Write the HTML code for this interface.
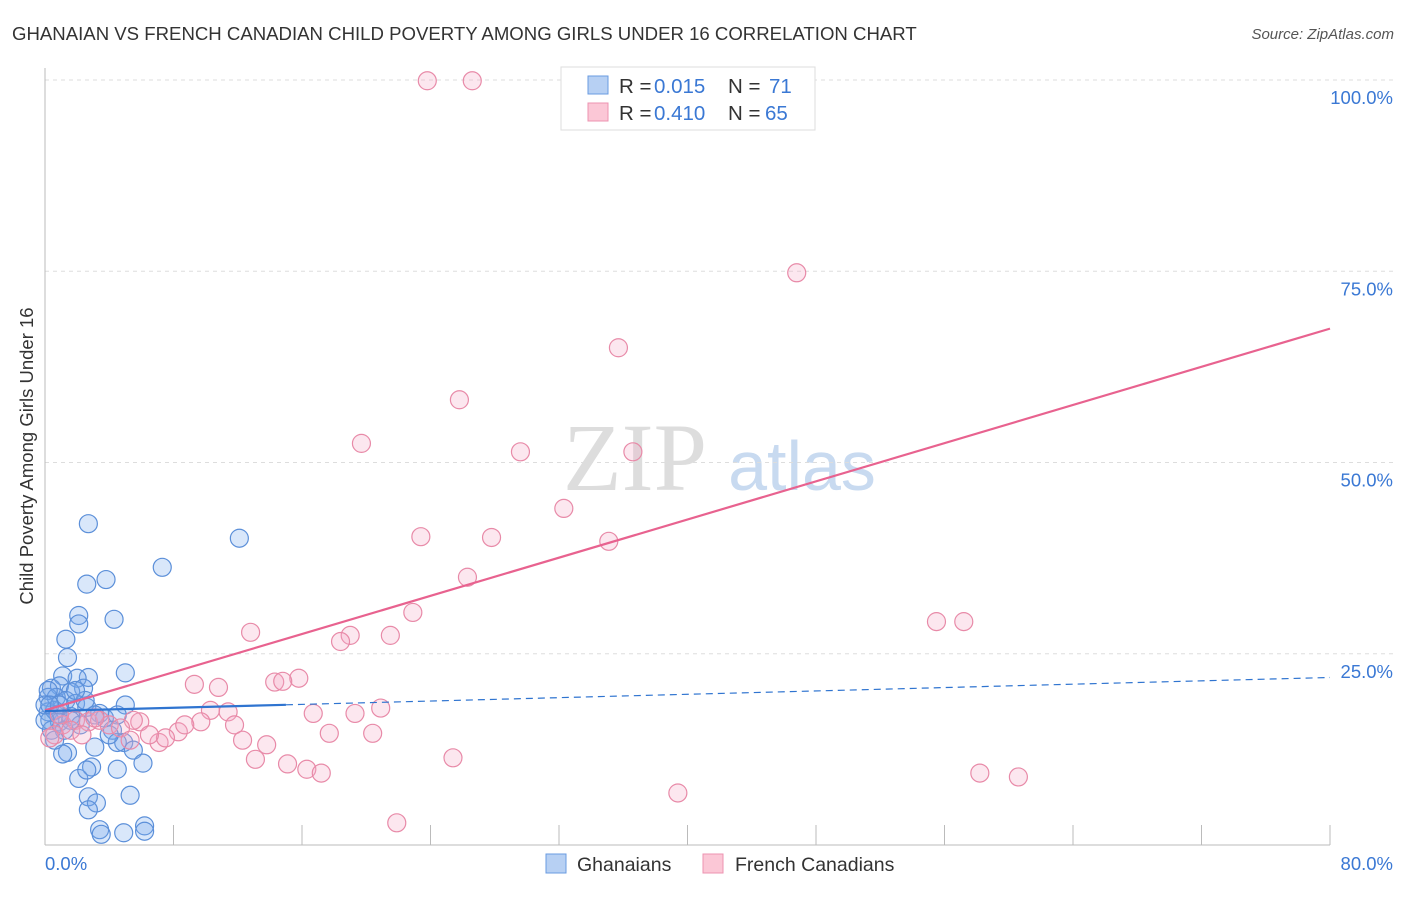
<!DOCTYPE html>
<html><head><meta charset="utf-8"><style>
body{margin:0;background:#fff;font-family:"Liberation Sans",sans-serif;}
</style></head><body>
<svg width="1406" height="892" xmlns="http://www.w3.org/2000/svg">
<text x="12" y="40" font-size="18.6" fill="#333">GHANAIAN VS FRENCH CANADIAN CHILD POVERTY AMONG GIRLS UNDER 16 CORRELATION CHART</text>
<text x="1394" y="39" font-size="15" fill="#555" font-style="italic" text-anchor="end">Source: ZipAtlas.com</text>
<g>
<text x="635" y="490" font-family="Liberation Serif,serif" font-size="96" fill="#ddd" text-anchor="middle">ZIP</text>
<text x="802" y="490" font-size="70" fill="#c8daf0" text-anchor="middle">atlas</text>
</g>
<g id="grid"></g>
<line x1="45" y1="68" x2="45" y2="845" stroke="#bbb"/>
<line x1="45" y1="845" x2="1330" y2="845" stroke="#bbb"/>
<g id="xt"></g>
<text x="33" y="456" font-size="18.5" fill="#333" text-anchor="middle" transform="rotate(-90 33 456)">Child Poverty Among Girls Under 16</text>
<text x="45" y="870" font-size="18.5" fill="#3a78d4">0.0%</text>
<text x="1393" y="870" font-size="18.5" fill="#3a78d4" text-anchor="end">80.0%</text>
<g id="pts"></g>
<g id="lines"></g>
<g>
<rect x="561" y="67" width="254" height="63" fill="#fff" stroke="#ddd"/>
<rect x="588" y="76" width="20" height="18" fill="#b7d0f3" stroke="#6a9be0"/>
<rect x="588" y="103" width="20" height="18" fill="#fbc7d6" stroke="#ec93b0"/>
<text x="619" y="93" font-size="20.5" fill="#333">R = </text>
<text x="654" y="93" font-size="20.5" fill="#3a78d4">0.015</text>
<text x="728" y="93" font-size="20.5" fill="#333">N = </text>
<text x="769" y="93" font-size="20.5" fill="#3a78d4">71</text>
<text x="619" y="120" font-size="20.5" fill="#333">R = </text>
<text x="654" y="120" font-size="20.5" fill="#3a78d4">0.410</text>
<text x="728" y="120" font-size="20.5" fill="#333">N = </text>
<text x="765" y="120" font-size="20.5" fill="#3a78d4">65</text>
</g>
<g>
<rect x="546" y="854" width="20" height="19" fill="#b7d0f3" stroke="#6a9be0"/>
<text x="577" y="871" font-size="19.5" fill="#333">Ghanaians</text>
<rect x="703" y="854" width="20" height="19" fill="#fbc7d6" stroke="#ec93b0"/>
<text x="735" y="871" font-size="19.5" fill="#333">French Canadians</text>
</g>
</svg>
<script>
const yTicks=[25,50,75,100];
const yTickLabels=["25.0%","50.0%","75.0%","100.0%"];
const xTicks=[8,16,24,32,40,48,56,64,72,80];
const blueX=[2.7,12.1,7.3,2.6,3.8,2.1,2.1,4.3,1.3,1.4,5.0,2.7,1.1,2.0,0.4,0.9,2.4,1.6,5.0,0.2,0.7,1.3,1.9,2.6,3.4,0.2,0.8,1.6,3.7,4.5,0.3,0.9,2.2,0.4,4.2,4.9,3.1,5.5,1.4,1.1,4.5,2.1,2.9,2.6,4.5,6.1,5.3,2.7,3.2,2.7,3.4,4.9,6.2,6.2,3.5,0.6,0.0,0.2,0.0,1.6,2.5,0.9,3.1,1.2,0.6,4.0,0.3,1.9];
const blueY=[42.0,40.1,36.3,34.1,34.7,30.0,28.9,29.5,26.9,24.5,22.5,21.9,22.1,21.8,20.5,20.8,20.5,20.0,18.3,19.3,19.3,18.9,18.5,18.0,17.2,17.4,17.1,16.8,16.6,17.0,16.3,16.1,15.7,15.0,15.0,13.4,12.8,12.4,12.1,11.9,13.4,8.7,10.2,9.8,9.9,10.7,6.5,6.3,5.5,4.6,2.0,1.6,2.5,1.8,1.4,17.6,16.3,20.2,18.3,16.3,18.9,18.3,17.0,15.0,13.7,14.4,18.3,20.2];
const pinkX=[23.8,26.6,46.8,35.7,25.8,19.7,29.6,36.6,32.3,23.4,27.8,35.1,26.3,22.9,12.8,19.0,21.5,18.4,15.8,9.3,10.8,14.3,14.8,55.5,57.2,10.3,11.4,16.7,19.3,20.9,8.3,9.7,11.8,7.1,5.9,5.5,7.5,12.3,13.8,17.7,20.4,13.1,15.1,16.3,17.2,25.4,58.2,60.6,39.4,21.9,1.1,1.9,0.6,2.7,3.4,4.0,4.7,1.6,0.3,5.3,6.5,3.1,8.7,2.3,0.9];
const pinkY=[99.9,99.9,74.8,65.0,58.2,52.5,51.4,51.4,44.0,40.3,40.2,39.7,35.0,30.4,27.8,27.4,27.4,26.6,21.8,21.0,20.6,21.3,21.4,29.2,29.2,17.6,17.4,17.2,17.2,17.9,14.8,16.1,15.7,13.4,16.1,16.3,14.0,13.7,13.1,14.6,14.6,11.2,10.6,9.9,9.4,11.4,9.4,8.9,6.8,2.9,15.7,16.3,14.4,16.1,16.3,15.7,15.3,15.0,14.0,13.7,14.4,16.6,15.7,14.4,17.0];
const pinkFit=[17.6,67.5];
const blueFit=[17.5,21.9];
const blueSolidEnd=15;
const NS="http://www.w3.org/2000/svg";
const X=v=>45+v*(1330-45)/80;
const Y=v=>845-v*(845-80)/100;
function mk(t,a){const e=document.createElementNS(NS,t);for(const k in a)e.setAttribute(k,a[k]);return e;}
const grid=document.getElementById('grid');
yTicks.forEach((t,i)=>{
 const l=mk('line',{x1:45,x2:1394,y1:Y(t),y2:Y(t),stroke:'#ddd','stroke-dasharray':'4,4'});
 
 
 grid.appendChild(l);
 const tx=mk('text',{x:1393,y:Y(t)+24,'font-size':18.5,fill:'#3a78d4','text-anchor':'end'});
 tx.textContent=yTickLabels[i];
 
 
 grid.appendChild(tx);
});
const xt=document.getElementById('xt');
xTicks.forEach(t=>{
 const l=mk('line',{x1:X(t),x2:X(t),y1:825,y2:845,stroke:'#bbb'});
 
 
 xt.appendChild(l);
});
const pts=document.getElementById('pts');
blueX.forEach((x,i)=>{
 const c=mk('circle',{cx:X(x),cy:Y(blueY[i]),r:9,fill:'rgba(120,168,236,0.28)',stroke:'#5b8fd9','stroke-width':1.2});
 
 
 pts.appendChild(c);
});
pinkX.forEach((x,i)=>{
 const c=mk('circle',{cx:X(x),cy:Y(pinkY[i]),r:9,fill:'rgba(246,170,196,0.28)',stroke:'#e88aa8','stroke-width':1.2});
 
 
 pts.appendChild(c);
});
const lines=document.getElementById('lines');
const bAt=x=>blueFit[0]+(blueFit[1]-blueFit[0])*x/80;
let l1=mk('line',{x1:X(0),y1:Y(pinkFit[0]),x2:X(80),y2:Y(pinkFit[1]),stroke:'#e8628f','stroke-width':2.2});


lines.appendChild(l1);
let l2=mk('line',{x1:X(0),y1:Y(bAt(0)),x2:X(blueSolidEnd),y2:Y(bAt(blueSolidEnd)),stroke:'#2f74d0','stroke-width':2.2});


lines.appendChild(l2);
let l3=mk('line',{x1:X(blueSolidEnd),y1:Y(bAt(blueSolidEnd)),x2:X(80),y2:Y(bAt(80)),stroke:'#2f74d0','stroke-width':1.2,'stroke-dasharray':'7,5'});


lines.appendChild(l3);
</script>
</body></html>
